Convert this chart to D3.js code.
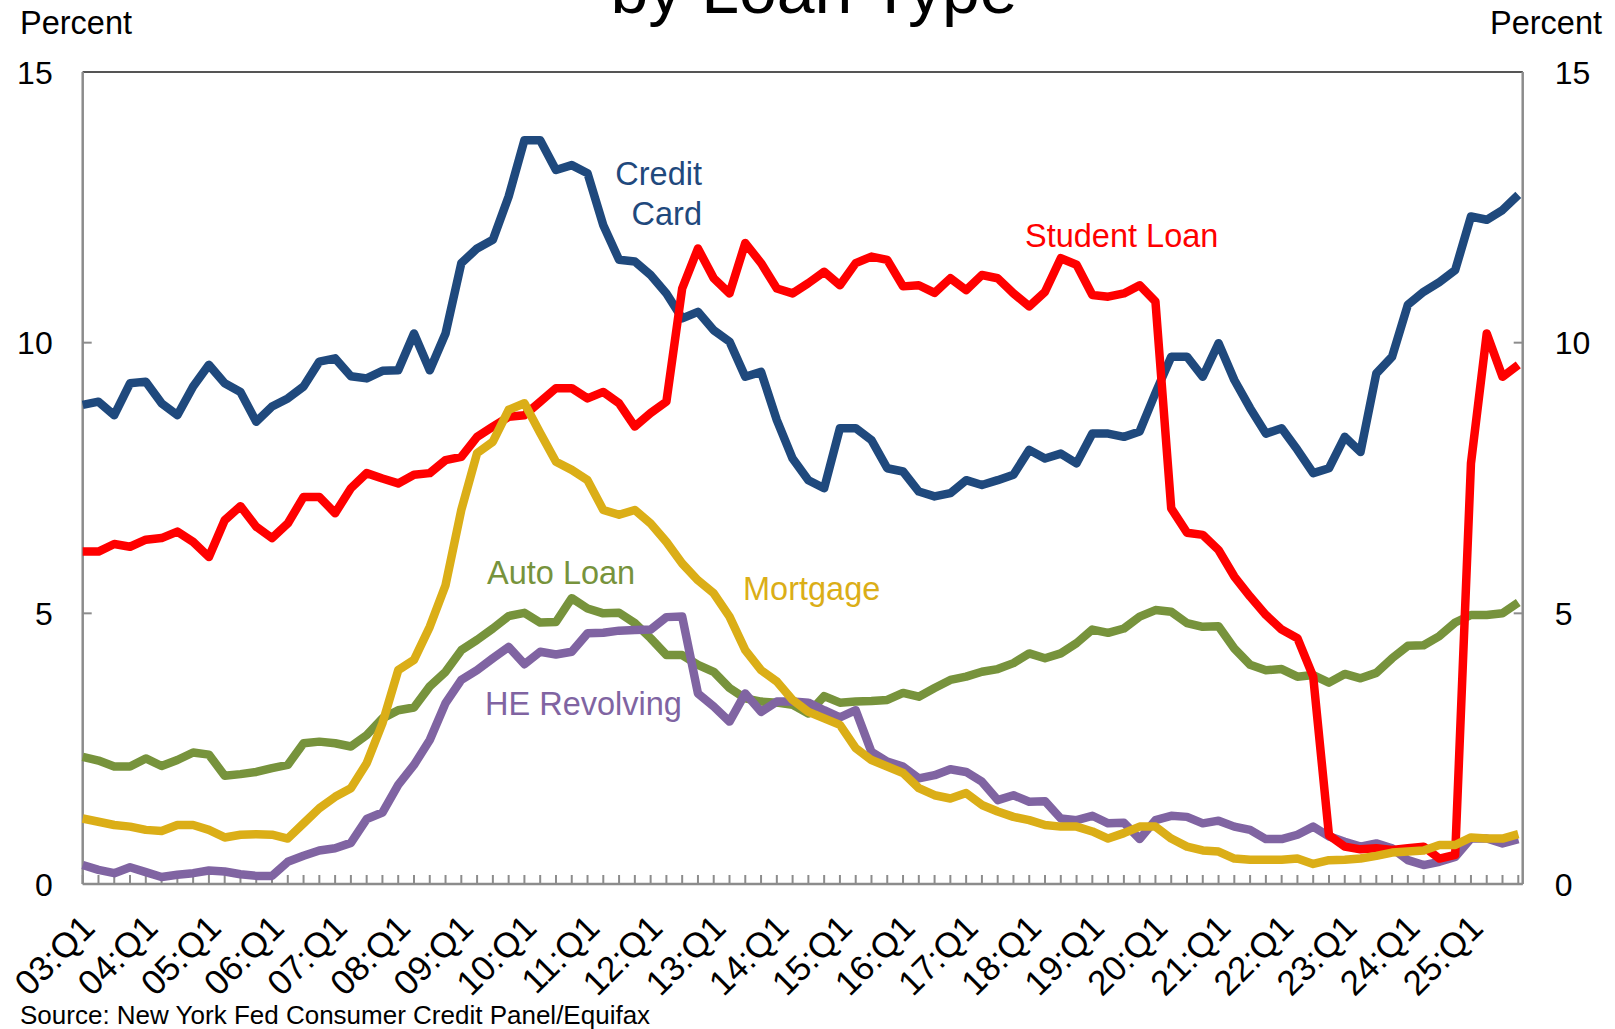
<!DOCTYPE html>
<html>
<head>
<meta charset="utf-8">
<script src="https://cdn.jsdelivr.net/npm/d3@7"></script>
<style>
  html, body { margin: 0; padding: 0; background: #fff; }
  svg text { font-family: Arial, "Liberation Sans", sans-serif; }
</style>
</head>
<body>
<div id="chart"></div>
<script>
// quarters 03:Q1 .. 25:Q4
const quarters = [];
for (let y = 3; y <= 25; y++) {
  for (let q = 1; q <= 4; q++) quarters.push(String(y).padStart(2, "0") + ":Q" + q);
}
const yearTicks = quarters.filter(d => d.endsWith("Q1"));
const yTicks = [0, 5, 10, 15];

const creditCard = [
  8.85, 8.91, 8.66, 9.25, 9.28, 8.88, 8.66, 9.19, 9.59, 9.25,
  9.09, 8.54, 8.82, 8.97, 9.19, 9.65, 9.71, 9.38, 9.34, 9.48,
  9.49, 10.17, 9.49, 10.17, 11.47, 11.74, 11.90, 12.70, 13.74, 13.74,
  13.19, 13.28, 13.13, 12.17, 11.53, 11.50, 11.25, 10.91, 10.45, 10.57,
  10.23, 10.02, 9.37, 9.46, 8.57, 7.86, 7.46, 7.31, 8.42, 8.42,
  8.20, 7.68, 7.62, 7.25, 7.16, 7.22, 7.46, 7.37, 7.46, 7.56,
  8.02, 7.86, 7.95, 7.77, 8.32, 8.32, 8.26, 8.36, 9.07, 9.74,
  9.74, 9.37, 9.99, 9.31, 8.79, 8.32, 8.42, 8.02, 7.59, 7.68,
  8.26, 7.98, 9.43, 9.74, 10.70, 10.94, 11.12, 11.34, 12.33, 12.27,
  12.45, 12.73
];
const studentLoan = [
  6.14, 6.14, 6.28, 6.23, 6.36, 6.39, 6.51, 6.32, 6.04, 6.72,
  6.98, 6.60, 6.39, 6.66, 7.15, 7.15, 6.85, 7.31, 7.59, 7.49,
  7.40, 7.56, 7.59, 7.83, 7.89, 8.26, 8.45, 8.63, 8.66, 8.91,
  9.16, 9.16, 8.97, 9.09, 8.88, 8.45, 8.70, 8.91, 11.00, 11.74,
  11.19, 10.91, 11.84, 11.47, 11.00, 10.91, 11.10, 11.31, 11.06, 11.47,
  11.59, 11.53, 11.04, 11.06, 10.92, 11.19, 10.97, 11.25, 11.19, 10.91,
  10.67, 10.94, 11.56, 11.44, 10.88, 10.85, 10.91, 11.06, 10.76, 6.94,
  6.49, 6.45, 6.17, 5.68, 5.31, 4.97, 4.70, 4.54, 3.83, 0.90,
  0.69, 0.64, 0.66, 0.63, 0.66, 0.69, 0.47, 0.54, 7.77, 10.17,
  9.37, 9.59
];
const autoLoan = [
  2.35, 2.28, 2.17, 2.17, 2.32, 2.18, 2.29, 2.43, 2.39, 2.00,
  2.03, 2.07, 2.14, 2.20, 2.60, 2.63, 2.60, 2.54, 2.75, 3.06,
  3.21, 3.26, 3.65, 3.92, 4.32, 4.51, 4.72, 4.95, 5.01, 4.83,
  4.84, 5.28, 5.09, 5.00, 5.01, 4.82, 4.54, 4.23, 4.23, 4.05,
  3.92, 3.62, 3.43, 3.37, 3.35, 3.31, 3.15, 3.47, 3.35, 3.37,
  3.38, 3.40, 3.53, 3.46, 3.62, 3.77, 3.83, 3.92, 3.97, 4.08,
  4.26, 4.17, 4.26, 4.45, 4.70, 4.64, 4.72, 4.94, 5.06, 5.03,
  4.82, 4.75, 4.76, 4.35, 4.05, 3.95, 3.97, 3.83, 3.86, 3.72,
  3.88, 3.80, 3.90, 4.17, 4.40, 4.41, 4.58, 4.83, 4.97, 4.97,
  5.00, 5.20
];
const mortgage = [
  1.21, 1.15, 1.09, 1.06, 1.00, 0.98, 1.09, 1.09, 1.00, 0.86,
  0.91, 0.92, 0.91, 0.84, 1.12, 1.40, 1.61, 1.77, 2.23, 2.97,
  3.95, 4.14, 4.75, 5.52, 6.91, 7.96, 8.17, 8.76, 8.88, 8.33,
  7.80, 7.65, 7.46, 6.91, 6.82, 6.91, 6.66, 6.32, 5.92, 5.61,
  5.37, 4.94, 4.32, 3.95, 3.74, 3.40, 3.18, 3.06, 2.94, 2.51,
  2.29, 2.17, 2.05, 1.77, 1.64, 1.58, 1.68, 1.46, 1.34, 1.24,
  1.18, 1.09, 1.06, 1.06, 0.97, 0.84, 0.94, 1.06, 1.06, 0.84,
  0.69, 0.62, 0.60, 0.47, 0.45, 0.45, 0.45, 0.47, 0.37, 0.44,
  0.45, 0.47, 0.52, 0.58, 0.60, 0.62, 0.72, 0.72, 0.86, 0.84,
  0.84, 0.92
];
const heRevolving = [
  0.35, 0.26, 0.20, 0.31, 0.22, 0.13, 0.17, 0.20, 0.25, 0.23,
  0.18, 0.15, 0.15, 0.41, 0.52, 0.62, 0.66, 0.76, 1.20, 1.32,
  1.83, 2.20, 2.66, 3.34, 3.77, 3.95, 4.17, 4.38, 4.06, 4.29,
  4.24, 4.29, 4.63, 4.64, 4.68, 4.69, 4.70, 4.93, 4.94, 3.52,
  3.28, 3.00, 3.52, 3.18, 3.37, 3.37, 3.35, 3.21, 3.08, 3.21,
  2.44, 2.26, 2.17, 1.95, 2.01, 2.12, 2.07, 1.89, 1.55, 1.64,
  1.52, 1.53, 1.21, 1.18, 1.26, 1.12, 1.13, 0.83, 1.18, 1.26,
  1.24, 1.12, 1.17, 1.06, 1.00, 0.83, 0.83, 0.91, 1.06, 0.88,
  0.78, 0.69, 0.75, 0.66, 0.44, 0.35, 0.41, 0.50, 0.84, 0.84,
  0.75, 0.83
];

// drawing order: first = bottom
const series = [
  { name: "Auto Loan",    values: autoLoan,    color: "#77933c" },
  { name: "HE Revolving", values: heRevolving, color: "#8064a2" },
  { name: "Credit Card",  values: creditCard,  color: "#1f497d" },
  { name: "Student Loan", values: studentLoan, color: "#ff0000" },
  { name: "Mortgage",     values: mortgage,    color: "#dbae17" }
];

const labels = [
  { lines: ["Credit", "Card"], color: "#1f497d", x: 702, y: 185, anchor: "end" },
  { lines: ["Student Loan"], color: "#ff0000", x: 1025, y: 247, anchor: "start" },
  { lines: ["Auto Loan"], color: "#77933c", x: 487, y: 584, anchor: "start" },
  { lines: ["Mortgage"], color: "#dbae17", x: 743, y: 600, anchor: "start" },
  { lines: ["HE Revolving"], color: "#8064a2", x: 485, y: 715, anchor: "start" }
];

const W = 1615, H = 1029;
const margin = { top: 72, right: W - 1522.7, bottom: H - 884, left: 82.7 };
const width = W - margin.left - margin.right;
const height = H - margin.top - margin.bottom;

const svg = d3.select("#chart").append("svg")
  .attr("width", W)
  .attr("height", H);

// title, only its lower edge is inside the picture
svg.append("text")
  .attr("x", 814)
  .attr("y", 13)
  .attr("text-anchor", "middle")
  .style("font-size", "68px")
  .style("fill", "#000")
  .text("by Loan Type");

const g = svg.append("g")
  .attr("transform", "translate(" + margin.left + "," + margin.top + ")");

const x = d3.scaleLinear().domain([0, 91.28]).range([0, width]);
const y = d3.scaleLinear().domain([0, 15]).range([height, 0]);

// quarter ticks on the bottom axis, pointing up
g.append("g")
  .attr("class", "x ticks")
  .selectAll("line")
  .data(quarters)
  .join("line")
  .attr("x1", (d, i) => x(i))
  .attr("x2", (d, i) => x(i))
  .attr("y1", height)
  .attr("y2", height - 9)
  .style("stroke", "#8c8c8c")
  .style("stroke-width", 2);

// y ticks, inside, on both sides
g.append("g").selectAll("line")
  .data(yTicks)
  .join("line")
  .attr("x1", 0).attr("x2", 9)
  .attr("y1", d => y(d)).attr("y2", d => y(d))
  .style("stroke", "#8c8c8c").style("stroke-width", 2);
g.append("g").selectAll("line")
  .data(yTicks)
  .join("line")
  .attr("x1", width).attr("x2", width - 9)
  .attr("y1", d => y(d)).attr("y2", d => y(d))
  .style("stroke", "#8c8c8c").style("stroke-width", 2);

// plot frame
g.append("line").attr("x1", 0).attr("x2", width).attr("y1", 0).attr("y2", 0)
  .style("stroke", "#555").style("stroke-width", 2);
g.append("line").attr("x1", 0).attr("x2", 0).attr("y1", 0).attr("y2", height)
  .style("stroke", "#8c8c8c").style("stroke-width", 2.5);
g.append("line").attr("x1", width).attr("x2", width).attr("y1", 0).attr("y2", height)
  .style("stroke", "#8c8c8c").style("stroke-width", 2.5);
g.append("line").attr("x1", 0).attr("x2", width).attr("y1", height).attr("y2", height)
  .style("stroke", "#8c8c8c").style("stroke-width", 2.5);

const line = d3.line()
  .x((d, i) => x(i))
  .y(d => y(d));

g.append("g").selectAll("path")
  .data(series)
  .join("path")
  .attr("class", d => "line " + d.name)
  .attr("d", d => line(d.values))
  .style("fill", "none")
  .style("stroke", d => d.color)
  .style("stroke-width", 8.5)
  .style("stroke-linejoin", "round");

// y tick labels
g.append("g").selectAll("text")
  .data(yTicks)
  .join("text")
  .attr("x", -30)
  .attr("y", d => y(d))
  .attr("dy", "0.36em")
  .attr("text-anchor", "end")
  .style("font-size", "32px")
  .text(d => d);
g.append("g").selectAll("text")
  .data(yTicks)
  .join("text")
  .attr("x", width + 32)
  .attr("y", d => y(d))
  .attr("dy", "0.36em")
  .attr("text-anchor", "start")
  .style("font-size", "32px")
  .text(d => d);

// x tick labels, rotated
g.append("g").selectAll("text")
  .data(yearTicks)
  .join("text")
  .attr("transform", d => "translate(" + (x(quarters.indexOf(d)) + 14) + "," + (height + 46) + ") rotate(-45)")
  .attr("text-anchor", "end")
  .style("font-size", "35px")
  .text(d => d);

// axis unit labels
svg.append("text").attr("x", 20).attr("y", 34)
  .style("font-size", "32.5px").text("Percent");
svg.append("text").attr("x", 1602).attr("y", 34)
  .attr("text-anchor", "end")
  .style("font-size", "32.5px").text("Percent");

// series labels
labels.forEach(l => {
  const t = svg.append("text")
    .attr("text-anchor", l.anchor)
    .style("font-size", "32.5px")
    .style("fill", l.color);
  l.lines.forEach((s, k) => {
    t.append("tspan").attr("x", l.x).attr("y", l.y + k * 39.5).text(s);
  });
});

// source
svg.append("text").attr("x", 20).attr("y", 1024)
  .style("font-size", "26px")
  .text("Source: New York Fed Consumer Credit Panel/Equifax");
</script>
</body>
</html>
